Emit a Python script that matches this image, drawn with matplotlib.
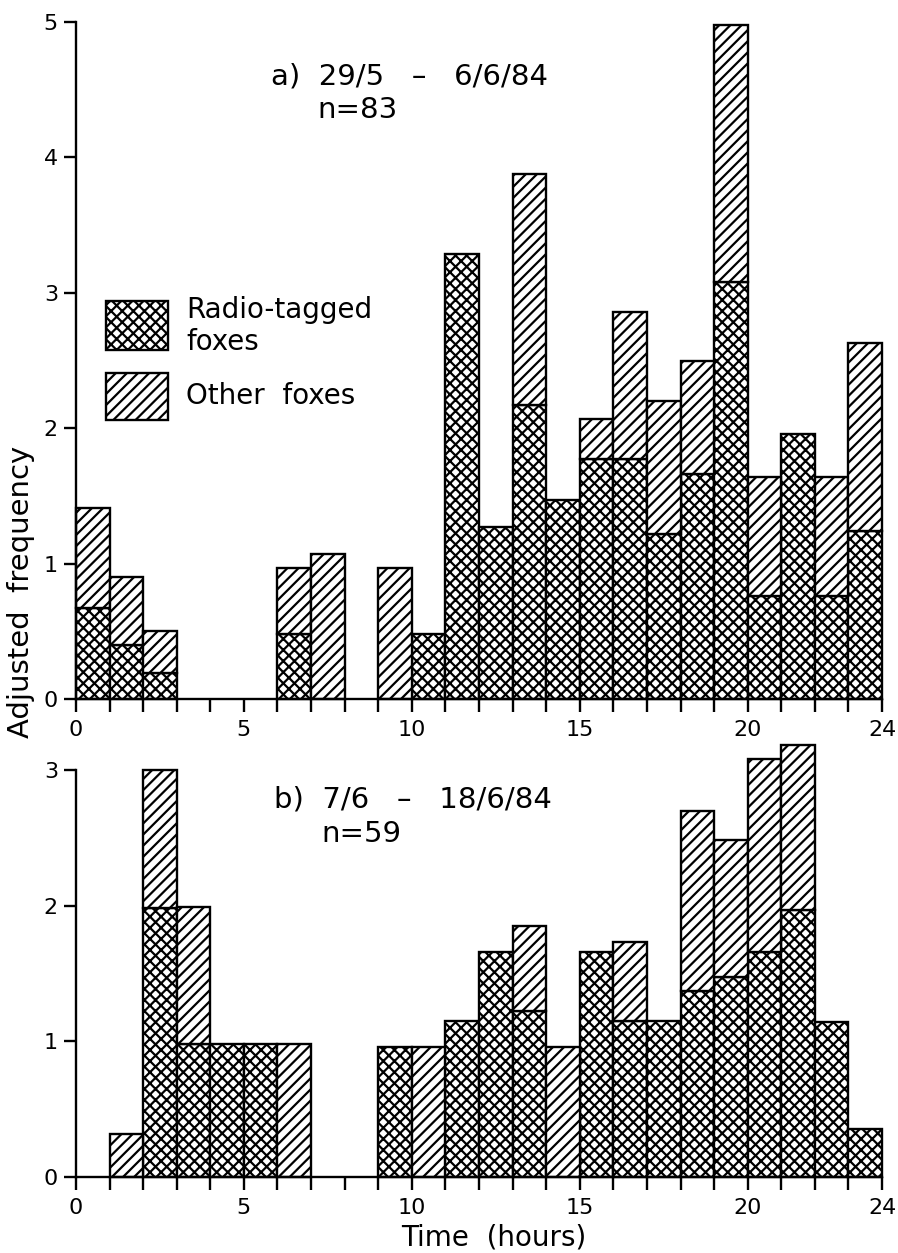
import numpy as np
import matplotlib
matplotlib.use("Agg")
import matplotlib.pyplot as plt
from matplotlib.patches import Rectangle

# Hour bins (left edges), 0..23
hours = np.arange(24)

# a) 29/5 - 6/6/84, n=83
a_radio = [0.67, 0.40, 0.19, 0, 0, 0, 0.48, 0, 0, 0, 0.48, 3.29,
           1.27, 2.17, 1.47, 1.77, 1.77, 1.22, 1.66, 3.08, 0.76, 1.96, 0.76, 1.24]
a_other = [0.74, 0.50, 0.31, 0, 0, 0, 0.49, 1.07, 0, 0.97, 0, 0,
           0, 1.71, 0, 0.30, 1.09, 0.98, 0.84, 1.90, 0.88, 0, 0.88, 1.39]

# b) 7/6 - 18/6/84, n=59
b_radio = [0, 0, 1.98, 0.98, 0.98, 0.98, 0, 0, 0, 0.96, 0, 1.15,
           1.66, 1.22, 0, 1.66, 1.15, 1.15, 1.37, 1.47, 1.66, 1.97, 1.14, 0.35]
b_other = [0, 0.32, 1.02, 1.01, 0, 0, 0.98, 0, 0, 0, 0.96, 0,
           0, 0.63, 0.96, 0, 0.58, 0, 1.33, 1.01, 1.42, 1.21, 0, 0]

xtick_labels = {0: '0', 5: '5', 10: '10', 15: '15', 20: '20', 24: '24'}

plt.rcParams['font.family'] = ['DejaVu Sans']
plt.rcParams['hatch.linewidth'] = 1.6
plt.rcParams['hatch.color'] = 'black'

LW = 1.7
TXT = 20
CROSS = 'xxx'
DIAG = '///'


def draw_bars(ax, radio, other):
    radio = np.asarray(radio, dtype=float)
    other = np.asarray(other, dtype=float)
    m = radio > 0
    ax.bar(hours[m], radio[m], width=1, align='edge', color='white',
           edgecolor='black', hatch=CROSS, linewidth=LW, clip_on=False)
    m = other > 0
    ax.bar(hours[m], other[m], bottom=radio[m], width=1, align='edge',
           color='white', edgecolor='black', hatch=DIAG, linewidth=LW,
           clip_on=False)


def style_axis(ax, ymax, ytop):
    ax.set_xlim(0, 24)
    ax.set_ylim(0, ytop)
    for side in ['top', 'right']:
        ax.spines[side].set_visible(False)
    for side in ['left', 'bottom']:
        ax.spines[side].set_linewidth(LW)
    ax.spines['left'].set_bounds(0, ymax)
    ax.set_xticks(range(25))
    ax.set_xticklabels([xtick_labels.get(h, '') for h in range(25)])
    ax.set_yticks(range(ymax + 1))
    ax.tick_params(direction='out', length=9, width=LW, labelsize=16)
    ax.tick_params(axis='x', pad=6)
    ax.tick_params(axis='y', pad=4)


fig = plt.figure(figsize=(8.98, 12.53), dpi=100)
ax1 = fig.add_axes([0.0846, 0.4421, 0.8976, 0.5457])
ax2 = fig.add_axes([0.0846, 0.0607, 0.8976, 0.3520])

# top panel
draw_bars(ax1, a_radio, a_other)
style_axis(ax1, 5, 5.05)
ax1.text(5.8, 4.6, 'a)  29/5   \u2013   6/6/84', fontsize=21, va='center')
ax1.text(7.2, 4.35, 'n=83', fontsize=21, va='center')

# legend drawn by hand
ax1.add_patch(Rectangle((0.9, 2.58), 1.85, 0.36, facecolor='white',
                        edgecolor='black', hatch=CROSS, linewidth=LW))
ax1.add_patch(Rectangle((0.9, 2.06), 1.85, 0.35, facecolor='white',
                        edgecolor='black', hatch=DIAG, linewidth=LW))
ax1.text(3.28, 2.87, 'Radio-tagged', fontsize=TXT, va='center')
ax1.text(3.28, 2.64, 'foxes', fontsize=TXT, va='center')
ax1.text(3.28, 2.24, 'Other  foxes', fontsize=TXT, va='center')

# bottom panel
draw_bars(ax2, b_radio, b_other)
style_axis(ax2, 3, 3.25)
ax2.text(5.9, 2.78, 'b)  7/6   \u2013   18/6/84', fontsize=21, va='center')
ax2.text(7.3, 2.53, 'n=59', fontsize=21, va='center')

fig.text(0.023, 0.5275, 'Adjusted  frequency', rotation=90, fontsize=21,
         ha='center', va='center')
fig.text(0.55, 0.012, 'Time  (hours)', fontsize=TXT, ha='center', va='center')

fig.savefig('out.png', dpi=100)
